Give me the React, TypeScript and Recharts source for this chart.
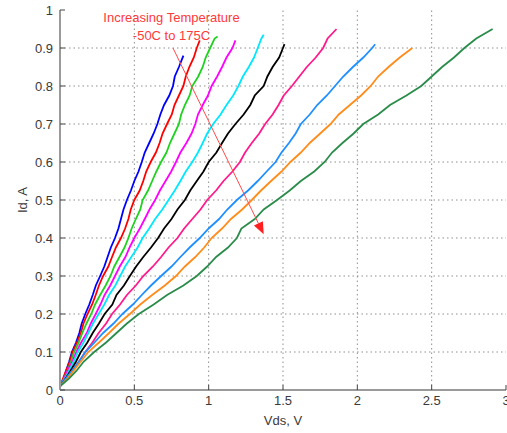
import React from "react";
import {
  LineChart, Line, XAxis, YAxis, ReferenceLine, ReferenceDot,
} from "recharts";

// Id (A) vs Vds (V), one curve per temperature step, -50C .. 175C
const xTicks = [0, 0.5, 1, 1.5, 2, 2.5, 3];
const yTicks = [0, 0.1, 0.2, 0.3, 0.4, 0.5, 0.6, 0.7, 0.8, 0.9, 1];
const xGrid = [0.5, 1, 1.5, 2, 2.5];
const yGrid = [0.1, 0.2, 0.3, 0.4, 0.5, 0.6, 0.7, 0.8, 0.9];

// drain current steps shared by all curves (A)
const idSteps = [0.01, 0.03, 0.05, 0.075, 0.1, 0.125, 0.15, 0.175, 0.2, 0.225, 0.25, 0.275, 0.3, 0.325, 0.35, 0.375, 0.4, 0.425, 0.45, 0.475, 0.5, 0.525, 0.55, 0.575, 0.6, 0.625, 0.65, 0.675, 0.7, 0.725, 0.75, 0.775, 0.8, 0.825, 0.85, 0.875, 0.9, 0.925];

// Vds read at each step, plus the last point of each curve
const blueV = [0, 0.025, 0.04, 0.062, 0.08, 0.108, 0.13, 0.146, 0.17, 0.197, 0.22, 0.241, 0.27, 0.298, 0.32, 0.342, 0.37, 0.393, 0.41, 0.427, 0.45, 0.477, 0.5, 0.528, 0.55, 0.57, 0.6, 0.63, 0.655, 0.675, 0.7, 0.735, 0.76, 0.772, 0.8];
const blueEnd = [0.83, 0.88];
const redV = [0, 0.02, 0.04, 0.066, 0.085, 0.115, 0.14, 0.158, 0.185, 0.216, 0.24, 0.262, 0.29, 0.325, 0.35, 0.376, 0.41, 0.438, 0.46, 0.476, 0.5, 0.536, 0.56, 0.58, 0.61, 0.645, 0.67, 0.69, 0.72, 0.752, 0.77, 0.8, 0.83, 0.846, 0.87, 0.9, 0.92];
const redEnd = [0.94, 0.92];
const greenV = [0, 0.026, 0.05, 0.074, 0.095, 0.126, 0.15, 0.178, 0.21, 0.236, 0.27, 0.307, 0.34, 0.365, 0.4, 0.434, 0.46, 0.482, 0.51, 0.54, 0.556, 0.592, 0.62, 0.648, 0.68, 0.716, 0.74, 0.77, 0.8, 0.815, 0.84, 0.872, 0.89, 0.93, 0.96, 0.98, 1.01, 1.04];
const greenEnd = [1.06, 0.93];
const magentaV = [0, 0.028, 0.05, 0.083, 0.11, 0.142, 0.18, 0.207, 0.24, 0.272, 0.3, 0.338, 0.37, 0.402, 0.44, 0.468, 0.5, 0.537, 0.57, 0.602, 0.64, 0.672, 0.71, 0.748, 0.78, 0.81, 0.85, 0.885, 0.91, 0.928, 0.96, 0.995, 1.02, 1.057, 1.09, 1.12, 1.16];
const magentaEnd = [1.18, 0.92];
const cyanV = [0, 0.032, 0.06, 0.092, 0.12, 0.158, 0.19, 0.222, 0.26, 0.298, 0.33, 0.372, 0.405, 0.438, 0.48, 0.522, 0.556, 0.6, 0.64, 0.688, 0.73, 0.772, 0.81, 0.846, 0.89, 0.928, 0.96, 0.99, 1.03, 1.08, 1.12, 1.165, 1.2, 1.23, 1.27, 1.305, 1.33, 1.355];
const cyanEnd = [1.37, 0.935];
const blackV = [0, 0.038, 0.07, 0.108, 0.14, 0.184, 0.22, 0.262, 0.3, 0.352, 0.38, 0.43, 0.47, 0.512, 0.56, 0.612, 0.66, 0.7, 0.75, 0.79, 0.84, 0.876, 0.92, 0.965, 1.0, 1.052, 1.09, 1.13, 1.18, 1.235, 1.28, 1.31, 1.37, 1.395, 1.43, 1.474, 1.5];
const blackEnd = [1.51, 0.91];
const pinkV = [0, 0.045, 0.08, 0.128, 0.17, 0.218, 0.26, 0.31, 0.35, 0.404, 0.45, 0.51, 0.56, 0.625, 0.68, 0.73, 0.79, 0.835, 0.89, 0.945, 0.99, 1.05, 1.1, 1.16, 1.21, 1.245, 1.29, 1.34, 1.38, 1.43, 1.47, 1.505, 1.56, 1.61, 1.66, 1.72, 1.77, 1.8];
const pinkEnd = [1.86, 0.95];
const skyV = [0, 0.04, 0.08, 0.128, 0.17, 0.232, 0.29, 0.36, 0.42, 0.49, 0.55, 0.612, 0.68, 0.75, 0.81, 0.872, 0.94, 1.0, 1.07, 1.125, 1.19, 1.265, 1.33, 1.39, 1.45, 1.49, 1.54, 1.585, 1.62, 1.68, 1.73, 1.795, 1.85, 1.905, 1.97, 2.04, 2.1];
const skyEnd = [2.12, 0.91];
const orangeV = [0, 0.05, 0.09, 0.14, 0.19, 0.262, 0.33, 0.395, 0.47, 0.54, 0.62, 0.705, 0.78, 0.84, 0.91, 0.97, 1.02, 1.09, 1.15, 1.225, 1.29, 1.352, 1.42, 1.49, 1.55, 1.62, 1.68, 1.75, 1.82, 1.875, 1.95, 2.025, 2.09, 2.14, 2.21, 2.285];
const orangeEnd = [2.37, 0.9];
const seaV = [0, 0.06, 0.11, 0.16, 0.23, 0.31, 0.38, 0.45, 0.53, 0.63, 0.72, 0.83, 0.92, 0.99, 1.05, 1.13, 1.19, 1.22, 1.31, 1.37, 1.46, 1.545, 1.62, 1.71, 1.78, 1.83, 1.9, 1.975, 2.04, 2.14, 2.22, 2.33, 2.43, 2.5, 2.57, 2.65, 2.72, 2.8];
const seaEnd = [2.91, 0.95];

const curves = [
  { key: "t1", color: "#0000ff", v: blueV, end: blueEnd },
  { key: "t2", color: "#ff0000", v: redV, end: redEnd },
  { key: "t3", color: "#1fd21f", v: greenV, end: greenEnd },
  { key: "t4", color: "#ff00ff", v: magentaV, end: magentaEnd },
  { key: "t5", color: "#00e8ff", v: cyanV, end: cyanEnd },
  { key: "t6", color: "#000000", v: blackV, end: blackEnd },
  { key: "t7", color: "#ff1a8c", v: pinkV, end: pinkEnd },
  { key: "t8", color: "#1e8fff", v: skyV, end: skyEnd },
  { key: "t9", color: "#ff8c1a", v: orangeV, end: orangeEnd },
  { key: "t10", color: "#2a8c4a", v: seaV, end: seaEnd },
];

const noteLines = [
  { text: "Increasing Temperature", v: 0.75, i: 0.968 },
  { text: "-50C to 175C", v: 0.75, i: 0.92 },
];
const arrowFrom = { v: 0.76, i: 0.9 };
const arrowTo = { v: 1.37, i: 0.41 };

const FONT = "'Liberation Sans', Arial, sans-serif";
const FRAME = "#9a9a9a";
const GRID = "#8e8e8e";
const tickStyle = { fill: "#3a3a3a", fontSize: 13, fontFamily: FONT };

function Arrow(p: any) {
  const { x1, y1, x2, y2 } = p;
  const ang = Math.atan2(y2 - y1, x2 - x1);
  const len = 12, half = 5;
  const bx = x2 - len * Math.cos(ang), by = y2 - len * Math.sin(ang);
  const px = -Math.sin(ang) * half, py = Math.cos(ang) * half;
  return (
    <g>
      <line x1={x1} y1={y1} x2={bx} y2={by} stroke="#ff4a4a" strokeWidth={1} />
      <polygon points={`${x2},${y2} ${bx + px},${by + py} ${bx - px},${by - py}`} fill="#ff2020" />
    </g>
  );
}

export default function App() {
  return (
    <div style={{ position: "absolute", left: 0, top: 0, width: 507, height: 433, background: "#fff" }}>
      <LineChart width={507} height={433} margin={{ top: 10, right: 1, bottom: 0, left: 0 }} style={{ fontFamily: FONT }}>
        <XAxis
          type="number" dataKey="v" domain={[0, 3]} ticks={xTicks} interval={0} allowDataOverflow
          height={43} tickSize={-5} tickMargin={11} tick={tickStyle}
          axisLine={{ stroke: FRAME, strokeWidth: 2 }} tickLine={{ stroke: "#444" }}
          label={{ value: "Vds, V", position: "insideBottom", offset: 8, fill: "#3a3a3a", fontSize: 13, fontFamily: FONT }}
        />
        <XAxis
          xAxisId="top" orientation="top" type="number" domain={[0, 3]} ticks={xTicks} interval={0}
          height={0} tickSize={-5} tick={false} axisLine={{ stroke: FRAME, strokeWidth: 2 }} tickLine={{ stroke: "#444" }}
        />
        <YAxis
          type="number" domain={[0, 1]} ticks={yTicks} interval={0} allowDataOverflow
          width={60} tickSize={-5} tickMargin={12} tick={tickStyle}
          axisLine={{ stroke: FRAME, strokeWidth: 2 }} tickLine={{ stroke: "#444" }}
          label={{
            position: "insideLeft",
            content: (props: any) => {
              const vb = props.viewBox;
              const cx = vb.x + 22, cy = vb.y + vb.height / 2;
              return (
                <text x={cx} y={cy} transform={`rotate(-90 ${cx} ${cy})`} textAnchor="middle" dominantBaseline="central"
                  fill="#3a3a3a" fontSize={13} fontFamily={FONT}>Id, A</text>
              );
            },
          }}
        />
        <YAxis
          yAxisId="right" orientation="right" type="number" domain={[0, 1]} ticks={yTicks} interval={0}
          width={0} tickSize={-5} tick={false} axisLine={{ stroke: FRAME, strokeWidth: 2 }} tickLine={{ stroke: "#444" }}
        />
        {xGrid.map((x) => (
          <ReferenceLine key={"gx" + x} x={x} stroke={GRID} strokeDasharray="1.5 3" strokeWidth={1} />
        ))}
        {yGrid.map((y) => (
          <ReferenceLine key={"gy" + y} y={y} stroke={GRID} strokeDasharray="1.5 3" strokeWidth={1} />
        ))}
        {curves.map((c) => (
          <Line
            key={c.key}
            data={c.v.map((v, k) => ({ v, i: idSteps[k] })).concat([{ v: c.end[0], i: c.end[1] }])}
            dataKey="i" type="linear" stroke={c.color} strokeWidth={1.8}
            dot={false} activeDot={false} isAnimationActive={false}
          />
        ))}
        <ReferenceLine
          segment={[{ x: arrowFrom.v, y: arrowFrom.i }, { x: arrowTo.v, y: arrowTo.i }]}
          shape={Arrow}
        />
        {noteLines.map((n) => (
          <ReferenceDot
            key={n.text} x={n.v} y={n.i} r={0}
            shape={(p: any) => (
              <text x={p.cx} y={p.cy} textAnchor="middle" fill="#ff3a3a" fontSize={13} fontFamily={FONT}>{n.text}</text>
            )}
          />
        ))}
      </LineChart>
    </div>
  );
}
